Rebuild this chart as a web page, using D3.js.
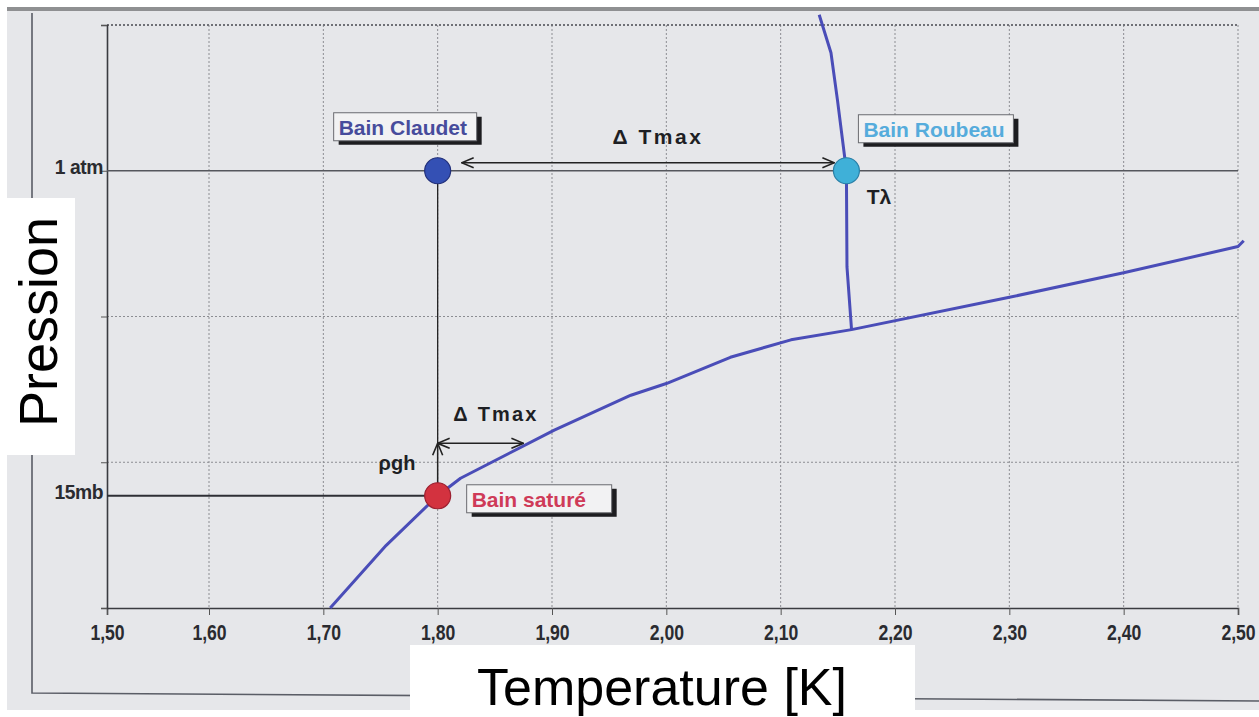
<!DOCTYPE html>
<html>
<head>
<meta charset="utf-8">
<script src="https://cdn.jsdelivr.net/npm/d3@7"></script>
<style>
  html, body { margin: 0; padding: 0; background: #ffffff; }
  svg { display: block; }
</style>
</head>
<body>
<svg id="chart"></svg>
<script>
// Axe des températures (K)
const tempTicks = [1.5, 1.6, 1.7, 1.8, 1.9, 2.0, 2.1, 2.2, 2.3, 2.4, 2.5];
const tempTickLabels = ['1,50', '1,60', '1,70', '1,80', '1,90', '2,00', '2,10', '2,20', '2,30', '2,40', '2,50'];

// Axe des pressions (unités de la grille, sans valeurs sauf deux repères)
const pressureGrid = [0, 1, 2, 3, 4];
const pressureTickValues = [3.0, 0.77];
const pressureTickLabels = ['1 atm', '15mb'];

// Courbe de vapeur saturante
const satT = [1.706, 1.755, 1.80, 1.820, 1.902, 1.969, 2.0, 2.056, 2.109, 2.162, 2.299, 2.40, 2.50, 2.505];
const satP = [0, 0.43, 0.77, 0.89, 1.22, 1.46, 1.54, 1.72, 1.84, 1.91, 2.13, 2.30, 2.48, 2.52];

// Ligne lambda
const lambdaT = [2.1337, 2.144, 2.1496, 2.1575, 2.158, 2.162];
const lambdaP = [4.07, 3.81, 3.49, 3.0, 2.34, 1.91];

// Points de fonctionnement
const pointNames = ['Bain Claudet', 'Bain Roubeau', 'Bain saturé'];
const pointT = [1.80, 2.1575, 1.80];
const pointP = [3.0, 3.0, 0.77];

const width = 1259;
const height = 717;

const svg = d3.select('#chart')
  .attr('width', width)
  .attr('height', height);

// Fond : papier photographié
svg.append('rect').attr('x', 7).attr('y', 7).attr('width', width - 7).attr('height', 703).attr('fill', '#e6e7ea');
svg.append('rect').attr('x', 7).attr('y', 7).attr('width', width - 7).attr('height', 4).attr('fill', '#8f9092');
svg.append('path')
  .attr('d', 'M32,13 L32,693 Q600,697 1259,701')
  .attr('fill', 'none').attr('stroke', '#5a5d66').attr('stroke-width', 1.6);

// Échelles
const x = d3.scaleLinear().domain([1.5, 1.6, 2.5]).range([107, 209, 1238]);
const y = d3.scaleLinear().domain([0, 4]).range([608, 25]);

const x0 = x(1.5), x1 = x(2.5);

// Grille
svg.append('g')
  .selectAll('line')
  .data(tempTicks.slice(1))
  .join('line')
  .attr('x1', d => x(d)).attr('x2', d => x(d))
  .attr('y1', y(4)).attr('y2', y(0))
  .attr('stroke', '#8c8d92').attr('stroke-width', 1).attr('stroke-dasharray', '2,2');

svg.append('g')
  .selectAll('line')
  .data(pressureGrid.filter(d => d > 0 && d !== 3))
  .join('line')
  .attr('x1', x0).attr('x2', x1)
  .attr('y1', d => y(d)).attr('y2', d => y(d))
  .attr('stroke', d => d === 4 ? '#6f7076' : '#8c8d92').attr('stroke-width', d => d === 4 ? 1.8 : 1)
  .attr('stroke-dasharray', '2,2');

const tickFont = '"Liberation Sans", Arial, sans-serif';

// Axe X
const xAxis = d3.axisBottom(x)
  .tickValues(tempTicks)
  .tickFormat((d, i) => tempTickLabels[i])
  .tickSize(7)
  .tickPadding(9);

const gx = svg.append('g')
  .attr('transform', `translate(0, ${y(0)})`)
  .call(xAxis);
gx.select('.domain').attr('stroke', '#3a3b40').attr('stroke-width', 1.6);
gx.selectAll('.tick line').attr('stroke', '#555');
gx.selectAll('.tick text')
  .attr('fill', '#2a2b30')
  .attr('transform', 'scale(0.8,1)')
  .style('font-family', tickFont)
  .style('font-weight', 'bold')
  .style('font-size', '22px');

// Axe Y
const yAxis = d3.axisLeft(y)
  .tickValues(pressureGrid)
  .tickFormat('')
  .tickSize(6);
const gy = svg.append('g')
  .attr('transform', `translate(${x0}, 0)`)
  .call(yAxis);
gy.select('.domain').attr('stroke', '#3a3b40').attr('stroke-width', 1.6);
gy.selectAll('.tick line').attr('stroke', '#555');

svg.append('g')
  .selectAll('text')
  .data(pressureTickValues)
  .join('text')
  .attr('transform', d => `translate(${x0 - 4}, ${y(d) + 3}) scale(0.92,1)`)
  .attr('text-anchor', 'end')
  .attr('fill', '#2a2b30')
  .style('font-family', tickFont)
  .style('font-weight', 'bold')
  .style('font-size', '21px')
  .style('letter-spacing', '-0.5px')
  .text((d, i) => pressureTickLabels[i]);

// Lignes de repère 1 atm et 15 mb
svg.append('line')
  .attr('x1', x0).attr('x2', x1)
  .attr('y1', y(pressureTickValues[0])).attr('y2', y(pressureTickValues[0]))
  .attr('stroke', '#55575d').attr('stroke-width', 1.3);
svg.append('line')
  .attr('x1', x0).attr('x2', x(pointT[2]))
  .attr('y1', y(pressureTickValues[1])).attr('y2', y(pressureTickValues[1]))
  .attr('stroke', '#2e2f35').attr('stroke-width', 2);

// Courbes
const line = d3.line().x(d => x(d[0])).y(d => y(d[1]));
svg.append('path')
  .datum(satT.map((t, i) => [t, satP[i]]))
  .attr('d', line)
  .attr('fill', 'none').attr('stroke', '#4a4db8').attr('stroke-width', 3).attr('stroke-linejoin', 'round');
svg.append('path')
  .datum(lambdaT.map((t, i) => [t, lambdaP[i]]))
  .attr('d', line)
  .attr('fill', 'none').attr('stroke', '#4a4db8').attr('stroke-width', 3).attr('stroke-linejoin', 'round');

// Flèches
const defs = svg.append('defs');
defs.append('marker')
  .attr('id', 'head')
  .attr('viewBox', '0 0 14 12')
  .attr('refX', 13).attr('refY', 6)
  .attr('markerWidth', 14).attr('markerHeight', 12)
  .attr('markerUnits', 'userSpaceOnUse')
  .attr('orient', 'auto-start-reverse')
  .append('path')
  .attr('d', 'M1,1 L13,6 L1,11')
  .attr('fill', 'none').attr('stroke', '#222').attr('stroke-width', 1.6);

function arrow(xa, ya, xb, yb) {
  svg.append('line')
    .attr('x1', xa).attr('y1', ya).attr('x2', xb).attr('y2', yb)
    .attr('stroke', '#222').attr('stroke-width', 1.5)
    .attr('marker-start', 'url(#head)')
    .attr('marker-end', 'url(#head)');
}

const cx = x(pointT[0]);
// trait vertical Claudet -> saturé
svg.append('line')
  .attr('x1', cx).attr('x2', cx)
  .attr('y1', y(pointP[0])).attr('y2', y(1.13))
  .attr('stroke', '#222').attr('stroke-width', 1.3);

arrow(cx + 24, y(pointP[0]) - 8, x(pointT[1]) - 12, y(pointP[0]) - 8);
arrow(cx, y(1.13), x(1.875), y(1.13));
arrow(cx, y(1.13), cx, y(pointP[2]) + 6);

const annoFont = '"Liberation Sans", Arial, sans-serif';
function anno(tx, ty, txt, size, spacing) {
  svg.append('text').attr('x', tx).attr('y', ty).attr('text-anchor', 'middle')
    .attr('fill', '#1e1f24')
    .style('font-family', annoFont).style('font-weight', 'bold')
    .style('font-size', size + 'px')
    .style('letter-spacing', spacing + 'px')
    .text(txt);
}
anno(658, 144, 'Δ Tmax', 21, 2.5);
anno(496, 421, 'Δ Tmax', 20, 2.2);
anno(397, 470, 'ρgh', 20, 0);
anno(879, 204, 'Tλ', 21, 0);

// Points
const dotColors = ['#3450b4', '#3fb0d8', '#d3323f'];
const dotStroke = ['#22307a', '#2a7fa6', '#9c2030'];
svg.append('g')
  .selectAll('circle')
  .data(pointNames)
  .join('circle')
  .attr('cx', (d, i) => x(pointT[i]))
  .attr('cy', (d, i) => y(pointP[i]))
  .attr('r', 13)
  .attr('fill', (d, i) => dotColors[i])
  .attr('stroke', (d, i) => dotStroke[i])
  .attr('stroke-width', 1.2);

// Étiquettes encadrées
const boxOffsets = [[-104, -58], [12, -56], [29, -11]];
const boxWidths = [143, 155, 145];
const textColors = ['#474c9c', '#56acdc', '#cf3b58'];
const labels = svg.append('g')
  .selectAll('g')
  .data(pointNames)
  .join('g')
  .attr('transform', (d, i) => `translate(${x(pointT[i]) + boxOffsets[i][0]}, ${y(pointP[i]) + boxOffsets[i][1]})`);
labels.append('rect')
  .attr('x', 5).attr('y', 4)
  .attr('width', (d, i) => boxWidths[i]).attr('height', 28)
  .attr('fill', '#1d1d20');
labels.append('rect')
  .attr('width', (d, i) => boxWidths[i]).attr('height', 28)
  .attr('fill', '#f2f2f3').attr('stroke', '#6a6b70').attr('stroke-width', 1);
labels.append('text')
  .attr('x', 5).attr('y', 22)
  .attr('fill', (d, i) => textColors[i])
  .style('font-family', annoFont)
  .style('font-weight', 'bold')
  .style('font-size', '21px')
  .text(d => d);

// Titres d'axes sur fond blanc
svg.append('rect').attr('x', 0).attr('y', 198).attr('width', 75).attr('height', 257).attr('fill', '#ffffff');
svg.append('text')
  .attr('transform', 'translate(57, 322) rotate(-90)')
  .attr('text-anchor', 'middle')
  .attr('fill', '#000')
  .style('font-family', annoFont)
  .style('font-size', '54px')
  .text('Pression');

svg.append('rect').attr('x', 410).attr('y', 645).attr('width', 505).attr('height', 72).attr('fill', '#ffffff');
svg.append('text')
  .attr('x', 662).attr('y', 705)
  .attr('text-anchor', 'middle')
  .attr('fill', '#000')
  .style('font-family', annoFont)
  .style('font-size', '52px')
  .text('Temperature [K]');
</script>
</body>
</html>
